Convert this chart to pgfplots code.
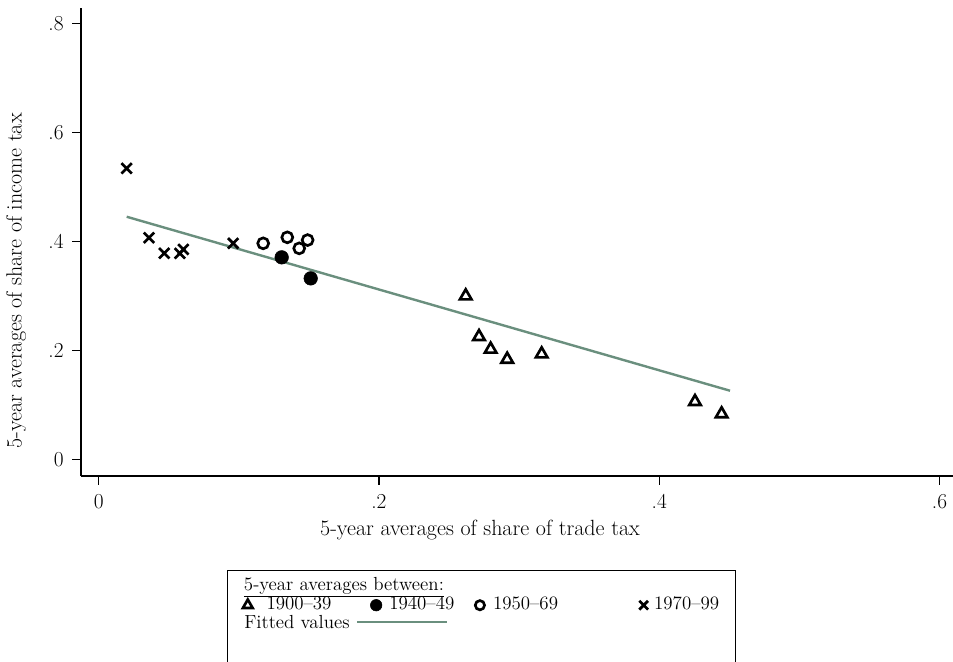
\documentclass[border=0pt]{standalone}
\usepackage{pgfplots}
\pgfplotsset{compat=1.18}
\definecolor{fitc}{RGB}{106,143,126}
\newcommand{\lfont}{\fontsize{16.5}{19}\selectfont}
\newcommand{\tfont}{\fontsize{16}{19}\selectfont}
\newcommand{\legfont}{\fontsize{14.2}{17}\selectfont}
\pgfplotsset{
  mymarkleg/.style={legend image code/.code={\path (-6pt,0pt) (6pt,0pt); \draw[##1, every mark/.append style={scale=0.85}] plot coordinates {(0pt,0pt)};}},
  myfitleg/.style={legend image code/.code={\path (0pt,0pt) (0pt,-30pt);}},
}
\begin{document}
\begin{tikzpicture}
\begin{axis}[
  at={(60.75pt,138.75pt)}, anchor=south west, scale only axis,
  width=654pt, height=351pt,
  xmin=-0.0126, xmax=0.6096, ymin=-0.0299, ymax=0.829,
  axis x line=bottom, axis y line=left,
  axis line style={line width=0.9pt, -},
  x axis line style={-}, y axis line style={-},
  tick align=outside, major tick length=6.5pt,
  tick style={line width=0.9pt, black},
  xtick={0,0.2,0.4,0.6}, xticklabels={0,.2,.4,.6},
  ytick={0,0.2,0.4,0.6,0.8}, yticklabels={0,.2,.4,.6,.8},
  ticklabel style={font=\tfont},
  xticklabel style={yshift=-3.5pt},
  yticklabel style={xshift=-3pt},
  label style={font=\lfont},
  xlabel={5-year averages of share of trade tax},
  ylabel={5-year averages of share of income tax},
  xlabel style={at={(axis description cs:0.4576,-0.1154)}, anchor=center},
  ylabel style={at={(axis description cs:-0.0745,0.4167)}, anchor=center},
  clip=false,
  legend columns=4,
  legend cell align=left,
  legend style={at={(0.1671,-0.2009)}, anchor=north west, draw=black,
    line width=0.8pt, inner xsep=9pt, inner ysep=5pt,
    /tikz/column sep=0pt, /tikz/row sep=0.75pt, font=\legfont,
    nodes={inner sep=0pt, text height=10pt, text depth=3.5pt}},
]
\addlegendimage{empty legend}
\addlegendentry{\makebox[0pt][l]{\hspace{-9.75pt}\underline{5-year averages between:}}}
\addlegendimage{empty legend}\addlegendentry{}
\addlegendimage{empty legend}\addlegendentry{}
\addlegendimage{empty legend}\addlegendentry{}

% 1900-39 triangles
\addplot[only marks, black, mark=triangle, mark size=5pt,
  mark options={line width=2pt, fill=none}, mymarkleg]
  table {
x y
0.2619 0.3004
0.2714 0.2257
0.2797 0.2026
0.2915 0.1842
0.3161 0.1939
0.4255 0.1064
0.4445 0.0839
};
\addlegendentry{\makebox[83.5pt][l]{\hspace{7.7pt}1900--39}}

% 1940-49 filled circles
\addplot[only marks, black, mark=*, mark size=5.1pt,
  mark options={line width=0.4pt, fill=black}, mymarkleg]
  table {
x y
0.1306 0.3714
0.1513 0.3328
};
\addlegendentry{\makebox[65pt][l]{\hspace{3.5pt}1940--49}}

% 1950-69 open circles
\addplot[only marks, black, mark=o, mark size=4.1pt,
  mark options={line width=2pt}, mymarkleg]
  table {
x y
0.1174 0.3971
0.1346 0.4081
0.1431 0.3879
0.1491 0.4031
};
\addlegendentry{\makebox[110pt][l]{\hspace{3.5pt}1950--69}}

% 1970-99 crosses
\addplot[only marks, black, mark=x, mark size=5.5pt,
  mark options={line width=2pt}, mymarkleg]
  table {
x y
0.0200 0.5347
0.0359 0.4073
0.0468 0.3787
0.0580 0.3787
0.0604 0.3860
0.0960 0.3971
};
\addlegendentry{\makebox[53.5pt][l]{\hspace{1.5pt}1970--99}}

% fitted values
\addplot[fitc, line width=1.8pt, forget plot] table {
x y
0.0200 0.4459
0.4505 0.1266
};
\addlegendimage{myfitleg}
\addlegendentry{\makebox[0pt][l]{\hspace{-9.5pt}Fitted values\hspace{5.5pt}\textcolor{fitc}{\rule[0.3em]{67.5pt}{1.5pt}}}}
\end{axis}
\pgfresetboundingbox
\path[use as bounding box] (0,0) rectangle (714.75pt,495.75pt);
\end{tikzpicture}
\end{document}
